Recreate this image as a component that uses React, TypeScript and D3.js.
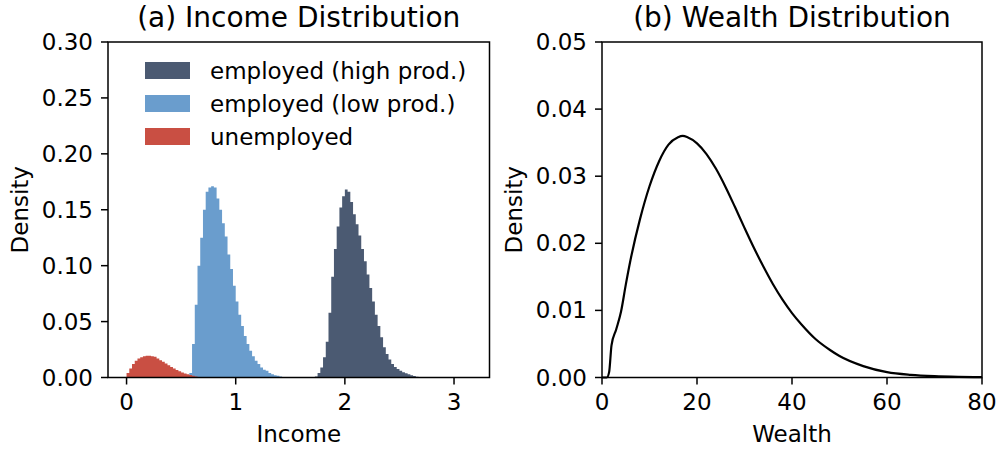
import React from "react";
import * as d3 from "d3";

// ---------- data ----------
const BIN_WIDTH = 0.025;

const highStart = 1.725;
const highDensity = [
  0.001, 0.004, 0.009, 0.018, 0.032, 0.058, 0.09, 0.115, 0.135, 0.152, 0.162, 0.168, 0.166, 0.157,
  0.146, 0.137, 0.127, 0.115, 0.104, 0.092, 0.08, 0.068, 0.056, 0.046, 0.036, 0.027, 0.021, 0.016,
  0.012, 0.0095, 0.0075, 0.006, 0.0048, 0.0038, 0.003, 0.002, 0.0013, 0.0007, 0.0003,
];

const lowStart = 0.575;
const lowDensity = [
  0.004, 0.03, 0.065, 0.1, 0.125, 0.15, 0.166, 0.17, 0.171, 0.17, 0.16, 0.15, 0.138, 0.126, 0.11,
  0.097, 0.082, 0.068, 0.056, 0.046, 0.037, 0.03, 0.024, 0.019, 0.015, 0.012, 0.009, 0.007, 0.006,
  0.004, 0.003, 0.002, 0.0015, 0.001, 0.0005,
];

const unempStart = 0.0;
const unempDensity = [
  0.004, 0.008, 0.012, 0.015, 0.017, 0.018, 0.019, 0.0195, 0.0195, 0.019, 0.0185, 0.017, 0.0155,
  0.014, 0.0125, 0.011, 0.0095, 0.008, 0.0068, 0.0056, 0.0045, 0.0036, 0.0028, 0.0022, 0.0016,
  0.001, 0.0005,
];

const wealthX = [
  0, 1, 1.5, 2, 3, 4, 5, 6, 8, 10, 12, 14, 16, 17, 18, 20, 22, 24, 26, 28, 30, 32, 34, 36, 38, 40,
  42, 45, 48, 50, 55, 60, 65, 70, 75, 80,
];
const wealthDensity = [
  0, 0.0, 0.0008, 0.0048, 0.0072, 0.0098, 0.0138, 0.0175, 0.0236, 0.0285, 0.0322, 0.0347, 0.0358,
  0.036, 0.0358, 0.0349, 0.0333, 0.0311, 0.0284, 0.0254, 0.0223, 0.0193, 0.0165, 0.0139, 0.0116,
  0.0096, 0.0079, 0.0057, 0.0041, 0.0032, 0.0017, 0.0008, 0.0004, 0.0002, 0.0001, 0.00005,
];

const incomeTicks = [0, 1, 2, 3];
const incomeYTicks = [0, 0.05, 0.1, 0.15, 0.2, 0.25, 0.3];
const wealthTicks = [0, 20, 40, 60, 80];
const wealthYTicks = [0, 0.01, 0.02, 0.03, 0.04, 0.05];

const seriesNames = ["employed (high prod.)", "employed (low prod.)", "unemployed"];
const seriesColors = ["#4b5a72", "#6a9dcd", "#c94f43"];

// ---------- layout ----------
const FONT = "DejaVu Sans, sans-serif";
const FS = 23;
const L = { x0: 108, x1: 489.5, y0: 42, y1: 377.5 };
const R = { x0: 602, x1: 982, y0: 42, y1: 377.5 };

const xInc = d3.scaleLinear().domain([-0.17, 3.325]).range([L.x0, L.x1]);
const yInc = d3.scaleLinear().domain([0, 0.3]).range([L.y1, L.y0]);
const xW = d3.scaleLinear().domain([0, 80]).range([R.x0, R.x1]);
const yW = d3.scaleLinear().domain([0, 0.05]).range([R.y1, R.y0]);

function histPath(start: number, vals: number[]) {
  const pts: [number, number][] = vals.map((v, i) => [start + i * BIN_WIDTH, v]);
  pts.push([start + vals.length * BIN_WIDTH, vals[vals.length - 1]]);
  const area = d3
    .area<[number, number]>()
    .x((d) => xInc(d[0]))
    .y0(yInc(0))
    .y1((d) => yInc(d[1]))
    .curve(d3.curveStepAfter);
  return area(pts) || "";
}

const fmt2 = d3.format(".2f");

function Axes({ box, x, y, xTicks, yTicks, xFmt, title, xLabel, yLabelX }: any) {
  const tickLen = 7;
  return (
    <g>
      {xTicks.map((t: number) => (
        <g key={"x" + t}>
          <line x1={x(t)} x2={x(t)} y1={box.y1} y2={box.y1 + tickLen} stroke="#000" strokeWidth={1.5} />
          <text x={x(t)} y={410} textAnchor="middle" fontSize={FS} fontFamily={FONT}>
            {xFmt(t)}
          </text>
        </g>
      ))}
      {yTicks.map((t: number) => (
        <g key={"y" + t}>
          <line x1={box.x0 - tickLen} x2={box.x0} y1={y(t)} y2={y(t)} stroke="#000" strokeWidth={1.5} />
          <text x={box.x0 - 15} y={y(t) + 8} textAnchor="end" fontSize={FS} fontFamily={FONT}>
            {fmt2(t)}
          </text>
        </g>
      ))}
      <rect
        x={box.x0}
        y={box.y0}
        width={box.x1 - box.x0}
        height={box.y1 - box.y0}
        fill="none"
        stroke="#000"
        strokeWidth={1.5}
      />
      <text x={(box.x0 + box.x1) / 2} y={27} textAnchor="middle" fontSize={28} fontFamily={FONT}>
        {title}
      </text>
      <text x={(box.x0 + box.x1) / 2} y={442} textAnchor="middle" fontSize={FS} fontFamily={FONT}>
        {xLabel}
      </text>
      <text
        transform={`translate(${yLabelX},${(box.y0 + box.y1) / 2}) rotate(-90)`}
        textAnchor="middle"
        fontSize={FS}
        fontFamily={FONT}
      >
        Density
      </text>
    </g>
  );
}

export default function App() {
  const wealthLine =
    d3
      .line<number>()
      .x((_, i) => xW(wealthX[i]))
      .y((d) => yW(d))
      .curve(d3.curveMonotoneX)(wealthDensity) || "";

  const hists = [
    { start: highStart, vals: highDensity, color: seriesColors[0] },
    { start: lowStart, vals: lowDensity, color: seriesColors[1] },
    { start: unempStart, vals: unempDensity, color: seriesColors[2] },
  ];

  return (
    <svg
      width={1000}
      height={450}
      style={{ position: "fixed", left: 0, top: 0, display: "block", background: "#fff" }}
    >
      <rect width={1000} height={450} fill="#fff" />
      {/* Panel (a) */}
      <g>
        {hists.map((h, i) => (
          <path key={i} d={histPath(h.start, h.vals)} fill={h.color} stroke="none" />
        ))}
        {seriesNames.map((n, i) => (
          <g key={n}>
            <rect x={145} y={62 + i * 33} width={45} height={17} fill={seriesColors[i]} />
            <text x={210} y={79 + i * 33} fontSize={FS} fontFamily={FONT}>
              {n}
            </text>
          </g>
        ))}
        <Axes
          box={L}
          x={xInc}
          y={yInc}
          xTicks={incomeTicks}
          yTicks={incomeYTicks}
          xFmt={(t: number) => String(t)}
          title="(a) Income Distribution"
          xLabel="Income"
          yLabelX={28}
        />
      </g>
      {/* Panel (b) */}
      <g>
        <path d={wealthLine} fill="none" stroke="#000" strokeWidth={2.2} />
        <Axes
          box={R}
          x={xW}
          y={yW}
          xTicks={wealthTicks}
          yTicks={wealthYTicks}
          xFmt={(t: number) => String(t)}
          title="(b) Wealth Distribution"
          xLabel="Wealth"
          yLabelX={522}
        />
      </g>
    </svg>
  );
}
